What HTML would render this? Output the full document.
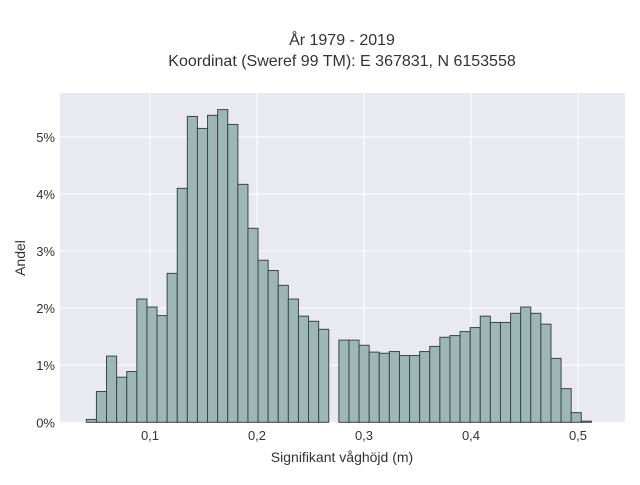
<!DOCTYPE html>
<html><head><meta charset="utf-8"><style>
body{margin:0;background:#fff;}
svg text{font-family:"Liberation Sans",sans-serif;fill:#333;}
</style></head><body>
<svg id="chart" width="640" height="480" xmlns="http://www.w3.org/2000/svg">
<rect x="0" y="0" width="640" height="480" fill="#fff"/>
<text x="342" y="45" font-size="16" text-anchor="middle">År 1979 - 2019</text>
<text x="342" y="66" font-size="16" text-anchor="middle">Koordinat (Sweref 99 TM): E 367831, N 6153558</text>
<rect x="60" y="93" width="565" height="330" fill="#e9e9f1"/>
<g id="grid"></g>
<g id="bars"></g>
<g id="ticks"></g>
<text x="342" y="462" font-size="14" text-anchor="middle">Signifikant våghöjd (m)</text>
<text x="0" y="0" font-size="14" text-anchor="middle" transform="translate(25,258) rotate(-90)">Andel</text>
</svg>
<script>
const binStart = 0.0405;
const binWidth = 0.00944;
const values = [0.05,0.54,1.16,0.79,0.89,2.16,2.02,1.87,2.61,4.10,5.36,5.15,5.38,5.48,5.22,4.17,3.40,2.84,2.66,2.40,2.16,1.86,1.77,1.63,0,1.44,1.44,1.35,1.23,1.21,1.24,1.17,1.17,1.24,1.33,1.49,1.52,1.59,1.66,1.86,1.75,1.75,1.91,2.02,1.91,1.72,1.12,0.59,0.17,0.02];
const xTicks = [0.1,0.2,0.3,0.4,0.5];
const xTickLabels = ["0,1","0,2","0,3","0,4","0,5"];
const yTicks = [0,1,2,3,4,5];
const yTickLabels = ["0%","1%","2%","3%","4%","5%"];

const NS="http://www.w3.org/2000/svg";
function xS(v){return 150+(v-0.1)*1070;}
function yS(v){return 422.3-v*57.06;}
function mk(tag,attrs,parent){const e=document.createElementNS(NS,tag);for(const k in attrs)e.setAttribute(k,attrs[k]);parent.appendChild(e);return e;}
const grid=document.getElementById('grid'),bars=document.getElementById('bars'),ticks=document.getElementById('ticks');
xTicks.forEach((t,i)=>{
  const l=mk('line',{x1:xS(t),x2:xS(t),y1:93,y2:423,stroke:'#fff','stroke-width':1},grid);
  
  
  const tx=mk('text',{x:xS(t),y:440,'font-size':13,'text-anchor':'middle'},ticks);
  tx.textContent=xTickLabels[i];
  
  
});
yTicks.forEach((t,i)=>{
  const l=mk('line',{x1:60,x2:625,y1:yS(t),y2:yS(t),stroke:'#fff','stroke-width':1},grid);
  
  
  const tx=mk('text',{x:55,y:yS(t)+5,'font-size':13,'text-anchor':'end'},ticks);
  tx.textContent=yTickLabels[i];
  
  
});
values.forEach((v,i)=>{
  if(v<=0)return;
  const x0=xS(binStart+i*binWidth),x1=xS(binStart+(i+1)*binWidth);
  const r=mk('rect',{x:x0,y:yS(v),width:x1-x0,height:yS(0)-yS(v),fill:'#9db7b7',stroke:'#3d4545','stroke-width':1},bars);
  
  
});
</script>
</body></html>
